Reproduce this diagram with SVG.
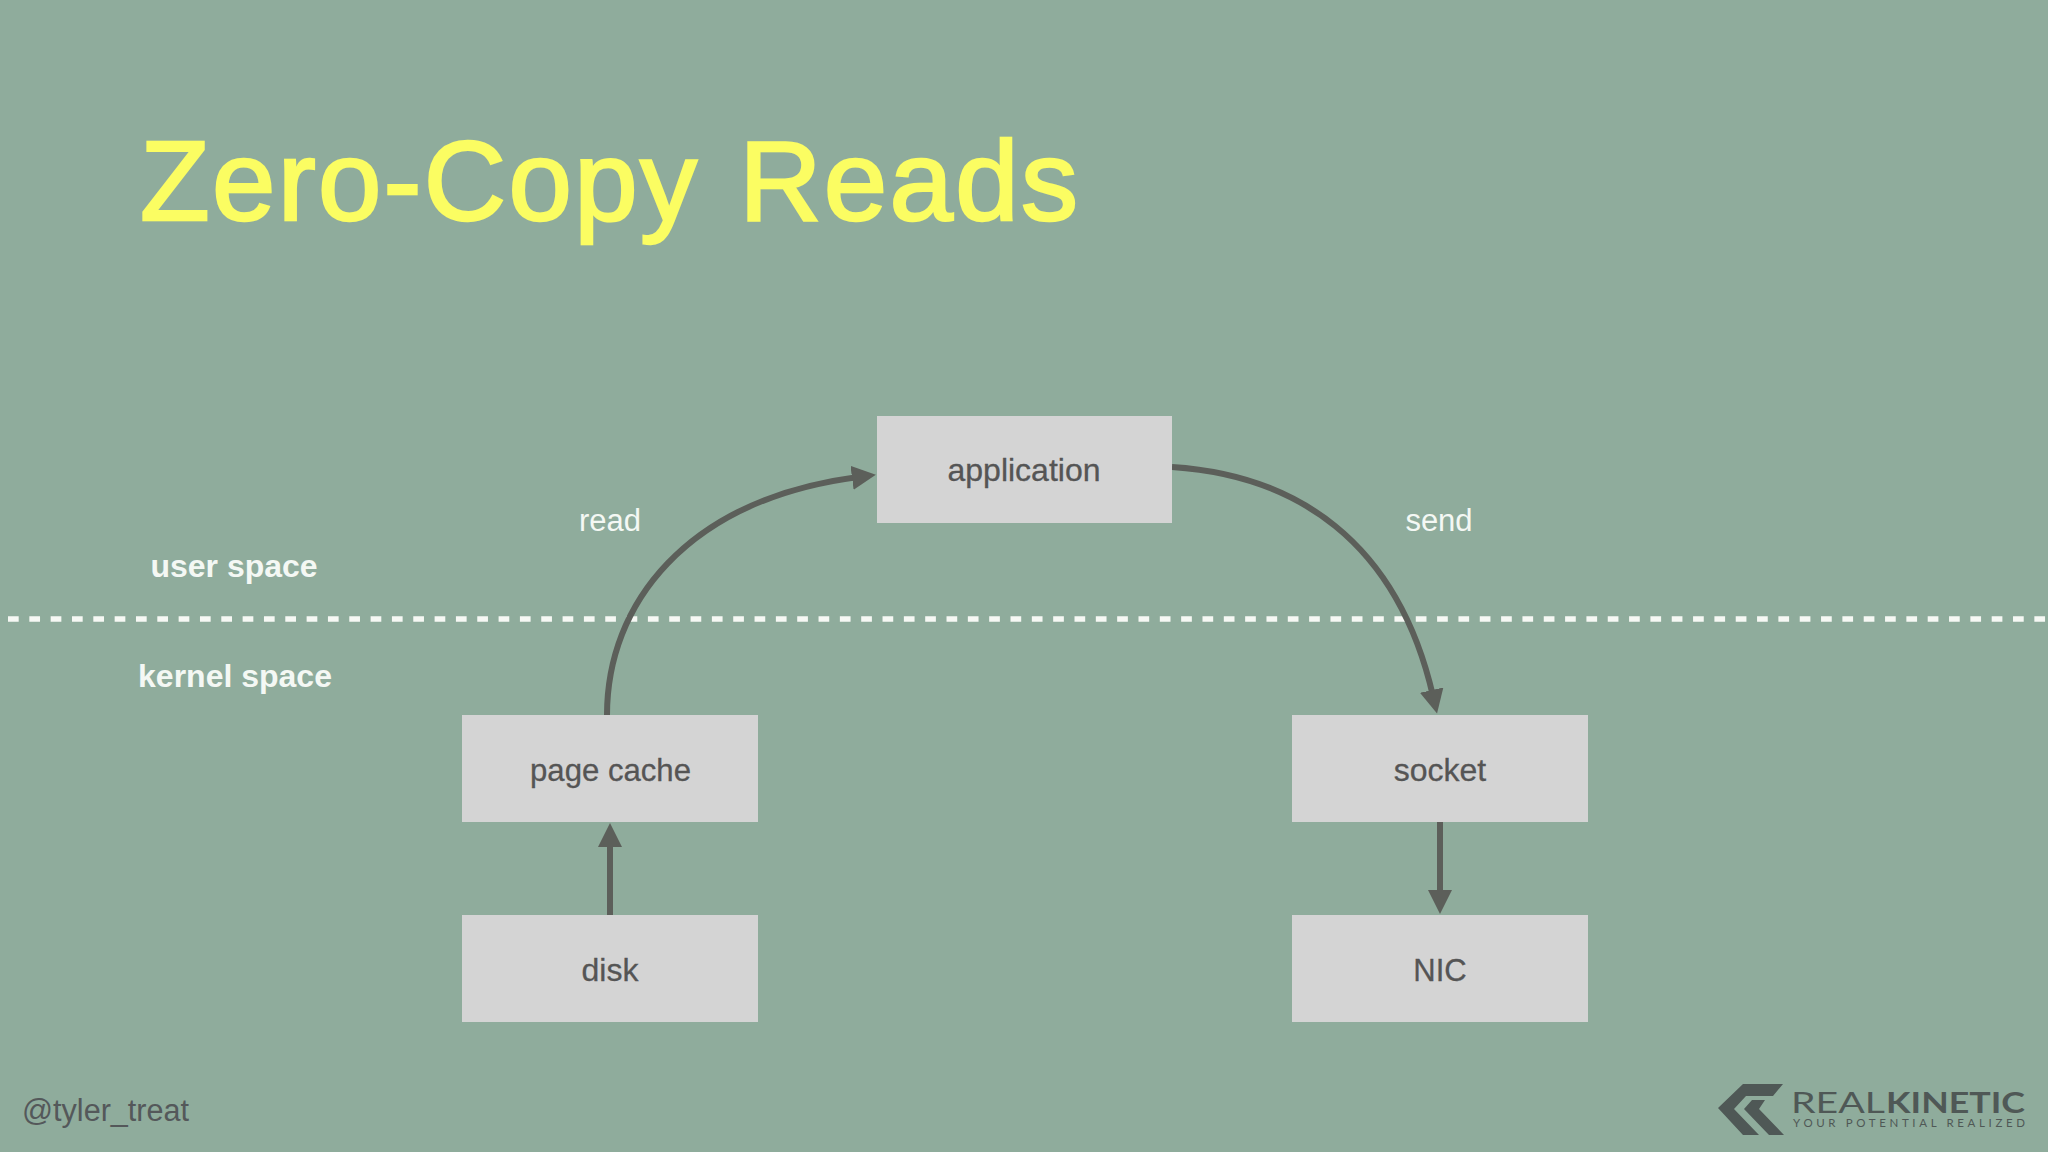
<svg xmlns="http://www.w3.org/2000/svg" width="2048" height="1152" viewBox="0 0 2048 1152">
<defs>
<marker id="arrow" markerUnits="userSpaceOnUse" markerWidth="30" markerHeight="30" refX="6" refY="12" orient="auto"><path d="M0 0L24 12L0 24Z" fill="#5c5f5a"/></marker>
</defs>
<style>
text{font-family:"Liberation Sans",Arial,sans-serif}
.box{fill:#d4d4d4}
.lb{font-size:32px;fill:#555;text-anchor:middle;stroke:#555;stroke-width:.3px}
.edge{fill:none;stroke:#5c5f5a;stroke-width:6px}
.w{font-size:31px;fill:#f4f8f4;text-anchor:middle}
.b{font-weight:bold;font-size:32px}
</style>
<rect width="2048" height="1152" fill="#8fac9c"/>
<text x="140" y="220" font-size="114" fill="#fbfd62" stroke="#fbfd62" stroke-width="2.5" letter-spacing="2.3" word-spacing="6">Zero-Copy Reads</text>
<line id="divider" x1="8" y1="619" x2="2048" y2="619" stroke="#f6f8f4" stroke-width="5.5" stroke-dasharray="10.7 10.63"/>
<g id="connectors">
<path class="edge" marker-end="url(#arrow)" d="M607 715C607 605 685 500 858 477"/>
<path class="edge" marker-end="url(#arrow)" d="M1172 467C1295 475 1397 540 1433 696"/>
<path class="edge" marker-end="url(#arrow)" d="M610 915V841"/>
<path class="edge" marker-end="url(#arrow)" d="M1440 822V896"/>
</g>
<g id="application"><rect class="box" x="877" y="416" width="295" height="107"/><text class="lb" x="1024" y="481">application</text></g>
<g id="page-cache"><rect class="box" x="462" y="715" width="296" height="107"/><text class="lb" x="530" y="781" style="text-anchor:start" textLength="161" lengthAdjust="spacingAndGlyphs">page cache</text></g>
<g id="disk"><rect class="box" x="462" y="915" width="296" height="107"/><text class="lb" x="610" y="981">disk</text></g>
<g id="socket"><rect class="box" x="1292" y="715" width="296" height="107"/><text class="lb" x="1440" y="781">socket</text></g>
<g id="nic"><rect class="box" x="1292" y="915" width="296" height="107"/><text class="lb" x="1440" y="981" style="font-size:31px">NIC</text></g>
<text class="w" x="610" y="531">read</text>
<text class="w" x="1439" y="531">send</text>
<text class="w b" x="234" y="577">user space</text>
<text class="w b" x="235" y="687">kernel space</text>
<text x="22" y="1121" font-size="30.6" fill="#54585a">@tyler_treat</text>
<g id="logo" fill="#4f5856">
<path d="M1783 1084H1743L1718 1108L1743 1135H1759L1734 1109L1746 1096H1773Z"/>
<path d="M1765 1100H1752L1744 1109L1769 1135H1784L1759 1109Z"/>
<text x="1791" y="1113" font-size="29" font-weight="400" style="font-family:Lato,sans-serif" textLength="94" lengthAdjust="spacingAndGlyphs">REAL</text>
<text x="1886" y="1113" font-size="29" font-weight="700" style="font-family:Lato,sans-serif" textLength="139" lengthAdjust="spacingAndGlyphs">KINETIC</text>
<text x="1793" y="1127" font-size="11.5" style="font-family:Lato,sans-serif" textLength="232">YOUR POTENTIAL REALIZED</text>
</g>
</svg>
